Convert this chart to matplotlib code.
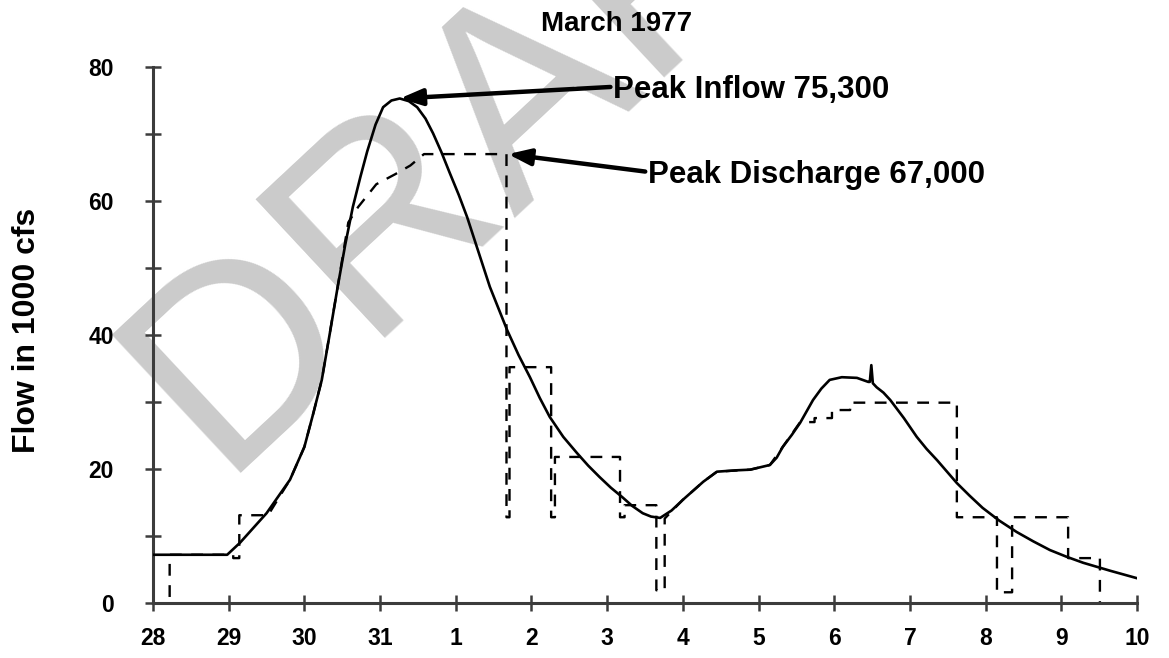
import matplotlib
matplotlib.use("Agg")
import matplotlib.pyplot as plt

plt.rcParams['font.family'] = ['Liberation Sans', 'DejaVu Sans']

# Day labels (March 28 .. April 10), positioned at day index 0..13
day_labels = ['28', '29', '30', '31', '1', '2', '3', '4', '5', '6', '7', '8', '9', '10']

# Inflow hydrograph (day index, 1000 cfs)
inflow_day = [0.00, 0.98, 1.15, 1.50, 1.81, 2.00, 2.12, 2.23, 2.34, 2.44, 2.54, 2.64,
              2.74, 2.83, 2.94, 3.04, 3.15, 3.26, 3.38, 3.49, 3.60, 3.70, 3.81, 3.92,
              4.04, 4.15, 4.30, 4.45, 4.57, 4.68, 4.83, 4.98, 5.11, 5.24, 5.42, 5.60,
              5.75, 5.90, 6.05, 6.20, 6.33, 6.47, 6.58, 6.70, 6.85, 7.00, 7.14, 7.27,
              7.45, 7.70, 7.89, 8.15, 8.24, 8.32, 8.44, 8.55, 8.64, 8.72, 8.83, 8.94,
              9.10, 9.30, 9.45, 9.47, 9.49, 9.51, 9.56, 9.65, 9.74, 9.92, 10.09, 10.22,
              10.36, 10.49, 10.62, 10.79, 10.96, 11.18, 11.41, 11.63, 11.85, 12.07,
              12.29, 12.65, 13.00]
inflow_q = [7.2, 7.2, 9.0, 13.4, 18.4, 23.3, 28.4, 33.3, 40.5, 47.2, 53.5, 59.1,
            63.6, 67.4, 71.4, 74.0, 75.0, 75.3, 74.9, 74.0, 72.3, 70.1, 67.3, 64.2,
            60.9, 57.6, 52.4, 47.2, 43.8, 40.7, 37.0, 33.7, 30.6, 27.8, 24.8, 22.4,
            20.5, 18.8, 17.2, 15.8, 14.5, 13.4, 12.9, 12.7, 13.8, 15.4, 16.8, 18.1,
            19.6, 19.8, 19.9, 20.6, 21.7, 23.3, 25.1, 26.9, 28.7, 30.3, 32.0, 33.3,
            33.7, 33.6, 33.0, 33.0, 35.5, 32.8, 32.2, 31.4, 30.3, 27.6, 24.8, 23.0,
            21.3, 19.6, 17.9, 16.0, 14.2, 12.3, 10.6, 9.2, 7.9, 6.9,
            6.0, 4.8, 3.7]

# Reservoir discharge (day index, 1000 cfs)
outflow_day = [0.22, 0.22, 1.06, 1.06, 1.14, 1.14, 1.52, 1.81, 2.00, 2.12, 2.23, 2.44,
               2.58, 2.71, 2.95, 3.20, 3.40, 3.58, 4.67, 4.67, 4.71, 4.71, 5.26, 5.26,
               5.31, 5.31, 6.17, 6.17, 6.23, 6.23, 6.65, 6.65, 6.76, 6.76, 7.00, 7.27,
               7.45, 7.89, 8.15, 8.32, 8.55, 8.74, 8.74, 8.97, 8.97, 9.21, 9.21, 10.62,
               10.62, 11.15, 11.15, 11.35, 11.35, 12.09, 12.09, 12.51, 12.51]
outflow_q = [0.9, 7.2, 7.2, 6.7, 6.7, 13.1, 13.1, 18.4, 23.3, 28.4, 33.3, 47.2,
             56.8, 59.1, 62.5, 64.0, 65.3, 67.0, 67.0, 12.8, 12.8, 35.2, 35.2, 12.8,
             12.8, 21.8, 21.8, 12.8, 12.8, 14.6, 14.6, 1.9, 1.9, 12.6, 15.4, 18.1,
             19.6, 19.9, 20.6, 23.3, 27.0, 27.0, 27.6, 27.6, 28.8, 28.8, 29.9, 29.9,
             12.8, 12.8, 1.6, 1.6, 12.8, 12.8, 6.7, 6.7, 0.0]

peak_inflow = 75.3
peak_inflow_day = 3.26
peak_discharge = 67.0
peak_discharge_day = 4.67

W, H = 1169, 658
fig = plt.figure(figsize=(W / 100, H / 100), dpi=100)
ax = fig.add_axes([153 / W, 1 - 603 / H, (1137 - 153) / W, (603 - 67) / H])
ax.patch.set_visible(False)

# Watermark behind the plot
fig.text(218 / W, 1 - 473 / H, 'DRAFT', fontsize=198, color='#cbcbcb',
         rotation=43, rotation_mode='anchor', ha='left', va='baseline',
         family='Liberation Sans', zorder=-5)

ax.plot(outflow_day, outflow_q, color='black', lw=1.7, ls=(0, (5, 4)), zorder=2)
ax.plot(inflow_day, inflow_q, color='black', lw=1.9, zorder=3,
        solid_joinstyle='round')

ax.set_xlim(0, 13)
ax.set_ylim(0, 80)
for s in ['top', 'right']:
    ax.spines[s].set_visible(False)
for s in ['left', 'bottom']:
    ax.spines[s].set_color('#3c3c3c')
    ax.spines[s].set_linewidth(2.2)

ax.set_xticks(range(len(day_labels)))
ax.set_xticklabels(day_labels)
ax.set_yticks(range(0, 81, 10))
ax.set_yticklabels([str(v) if v % 20 == 0 else '' for v in range(0, 81, 10)])
ax.tick_params(axis='both', direction='inout', length=12, width=1.8, color='#3c3c3c',
               labelsize=16.5)
ax.tick_params(axis='x', pad=11)
ax.tick_params(axis='y', pad=22)
for lab in ax.get_xticklabels() + ax.get_yticklabels():
    lab.set_fontweight('bold')

fig.text(617 / W, 1 - 24 / H, 'March 1977', ha='center', va='center',
         fontsize=20, fontweight='bold')
fig.text(27 / W, 1 - 330 / H, 'Flow in 1000 cfs', ha='center', va='center',
         rotation=90, fontsize=23, fontweight='bold')

arrow = dict(arrowstyle='-|>,head_length=0.6,head_width=0.22', lw=3.2, color='black',
             shrinkA=0, shrinkB=0, relpos=(0, 0.6))
ax.annotate('Peak Inflow 75,300', xy=(peak_inflow_day, peak_inflow),
            xytext=(6.08, 75.4), ha='left', va='baseline', fontsize=22.5,
            fontweight='bold', arrowprops=arrow, zorder=4)
ax.annotate('Peak Discharge 67,000', xy=(peak_discharge_day + 0.02, peak_discharge),
            xytext=(6.54, 62.7), ha='left', va='baseline', fontsize=22.5,
            fontweight='bold', arrowprops=arrow, zorder=4)

fig.savefig('out.png', dpi=100)
